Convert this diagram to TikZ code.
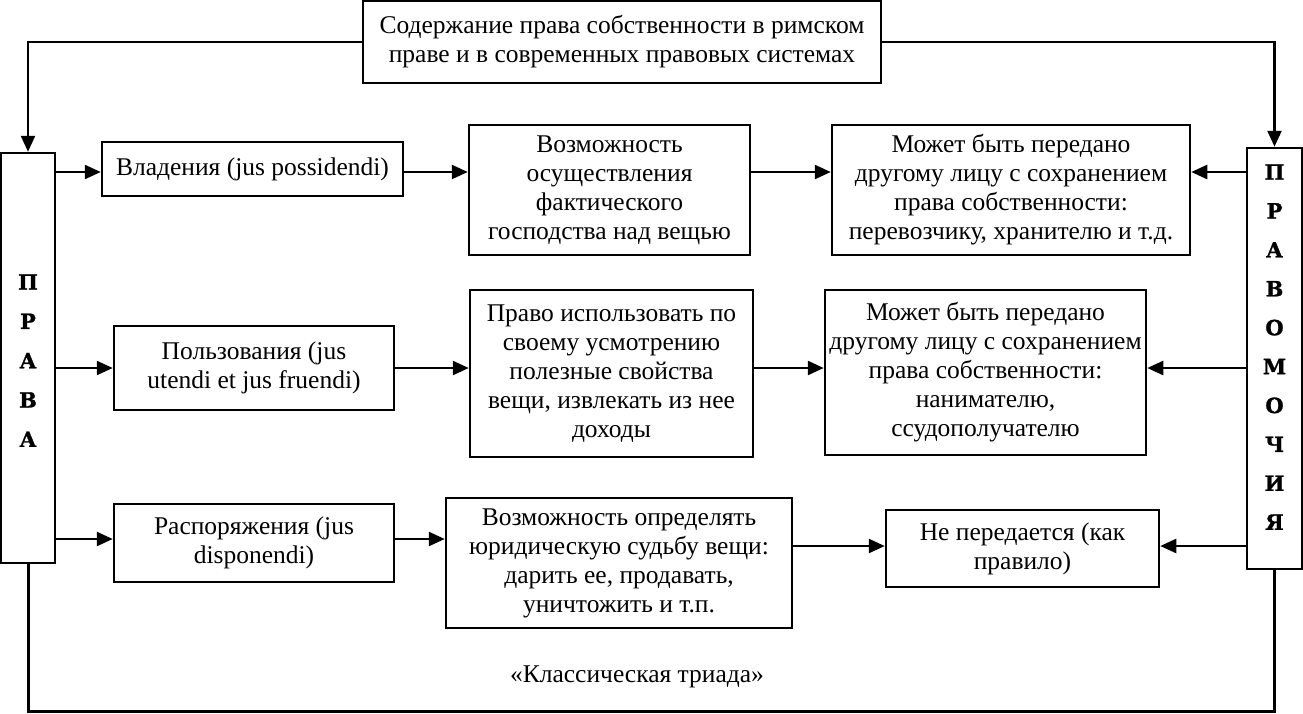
\documentclass[tikz,border=0pt]{standalone}
\usepackage{fontspec}
\setmainfont{Liberation Serif}
\newfontfamily\sideletterfont[FakeBold=1.2]{DejaVu Serif Bold}
\usetikzlibrary{arrows.meta}
\begin{document}
\begin{tikzpicture}[x=1pt,y=-1pt,
  box/.style={draw, line width=2.5pt, inner sep=0pt, align=center,
    font=\fontsize{25.5}{29}\selectfont},
  sideletter/.style={inner sep=0pt, font=\sideletterfont\fontsize{21}{21}\selectfont},
  conn/.style={line width=2.4pt},
  arr/.style={conn, -{Triangle[length=16pt,width=14pt]}},
  label/.style={inner sep=0pt, font=\fontsize{25.5}{29}\selectfont}]
\useasboundingbox (0,0) rectangle (1303,713);
% row coordinates
\coordinate (r1) at (0,172);
\coordinate (r2) at (0,368);
\coordinate (r3a) at (0,539);
\coordinate (r3b) at (0,546);
\coordinate (bot) at (0,711);
% boxes
\node[box, minimum width=518pt, minimum height=82pt] (top) at (622,42)
  {Содержание права собственности в римском\\праве и в современных правовых системах};
\node[box, minimum width=54pt, minimum height=410pt] (L) at (28,358) {};
\node[box, minimum width=55pt, minimum height=421pt] (R) at (1274.5,358.5) {};
\foreach \l [count=\i] in {П,Р,А,В,А}
  \node[sideletter] (Lt\i) at (28,{282+(\i-1)*39.3}) {\l};
\foreach \l [count=\i] in {П,Р,А,В,О,М,О,Ч,И,Я}
  \node[sideletter] (Rt\i) at (1274.5,{172+(\i-1)*38.9}) {\l};
% row 1
\node[box, minimum width=301pt, minimum height=54pt] (a1) at (252.5,169)
  {Владения (jus possidendi)};
\node[box, minimum width=281pt, minimum height=130pt] (b1) at (609.5,190)
  {Возможность\\осуществления\\фактического\\господства над вещью};
\node[box, minimum width=358pt, minimum height=130pt] (c1) at (1011,190)
  {Может быть передано\\другому лицу с сохранением\\права собственности:\\перевозчику, хранителю и т.д.};
% row 2
\node[box, minimum width=280pt, minimum height=84pt] (a2) at (254,368)
  {Пользования (jus\\utendi et jus fruendi)};
\node[box, minimum width=283pt, minimum height=167pt] (b2) at (611.5,373.5)
  {Право использовать по\\своему усмотрению\\полезные свойства\\вещи, извлекать из нее\\доходы};
\node[box, minimum width=321pt, minimum height=165pt] (c2) at (985.5,372.5)
  {Может быть передано\\другому лицу с сохранением\\права собственности:\\нанимателю,\\ссудополучателю};
% row 3
\node[box, minimum width=280pt, minimum height=78pt] (a3) at (254,543)
  {Распоряжения (jus\\disponendi)};
\node[box, minimum width=346pt, minimum height=130pt] (b3) at (619,563)
  {Возможность определять\\юридическую судьбу вещи:\\дарить ее, продавать,\\уничтожить и т.п.};
\node[box, minimum width=273pt, minimum height=77pt] (c3) at (1022.5,548.5)
  {Не передается (как\\правило)};
\node[label] (triad) at (637,677) {«Классическая триада»};
% connectors from top box
\draw[arr] (top.west) -| (L.north);
\draw[arr] (top.east) -| (R.north);
% row 1
\draw[arr] (L.east |- r1) -- (a1.west |- r1);
\draw[arr] (a1.east |- r1) -- (b1.west |- r1);
\draw[arr] (b1.east |- r1) -- (c1.west |- r1);
\draw[arr] (R.west |- r1) -- (c1.east |- r1);
% row 2
\draw[arr] (L.east |- r2) -- (a2.west |- r2);
\draw[arr] (a2.east |- r2) -- (b2.west |- r2);
\draw[arr] (b2.east |- r2) -- (c2.west |- r2);
\draw[arr] (R.west |- r2) -- (c2.east |- r2);
% row 3
\draw[arr] (L.east |- r3a) -- (a3.west |- r3a);
\draw[arr] (a3.east |- r3a) -- (b3.west |- r3a);
\draw[arr] (b3.east |- r3b) -- (c3.west |- r3b);
\draw[arr] (R.west |- r3b) -- (c3.east |- r3b);
% bottom loop
\draw[conn, line width=3pt] (L.south) -- (L.south |- bot) -- (R.south |- bot) -- (R.south);
\end{tikzpicture}
\end{document}
